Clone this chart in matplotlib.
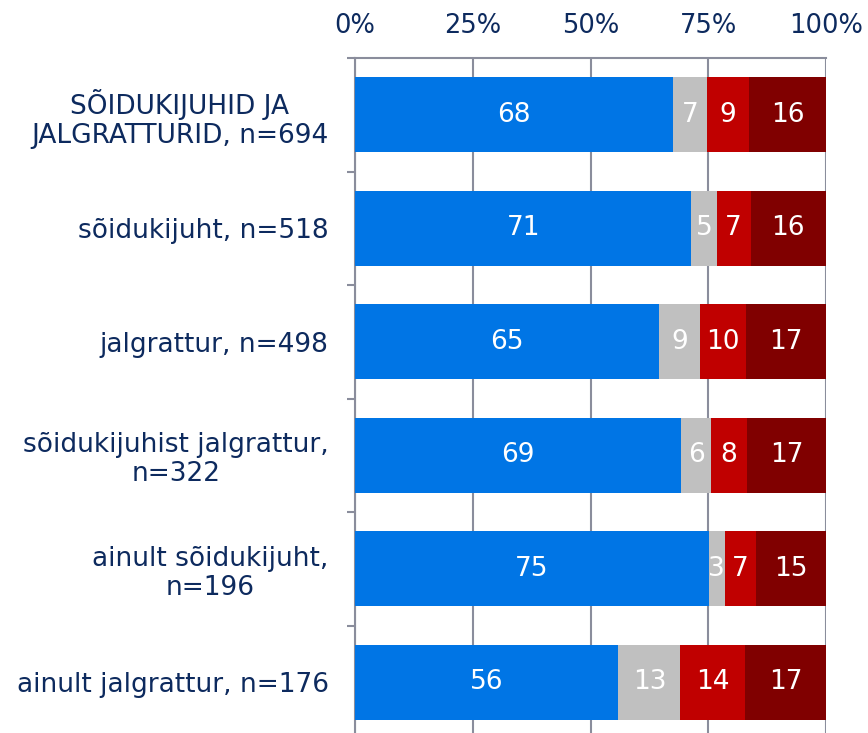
import numpy as np
import matplotlib.pyplot as plt

categories = ['SÕIDUKIJUHID JA\nJALGRATTURID, n=694',
              'sõidukijuht, n=518',
              'jalgrattur, n=498',
              'sõidukijuhist jalgrattur,\nn=322',
              'ainult sõidukijuht,\nn=196',
              'ainult jalgrattur, n=176']
blue = [67.6, 71.4, 64.6, 69.2, 75.1, 55.9]
grey = [7.2, 5.4, 8.7, 6.4, 3.4, 13.2]
red = [8.8, 7.2, 9.7, 7.6, 6.6, 13.7]
darkred = [16.4, 16.0, 17.0, 16.8, 14.9, 17.2]
xticks = [0, 25, 50, 75, 100]

series = [blue, grey, red, darkred]
colors = ['#0075E5', '#C0C0C0', '#C00000', '#800000']
navy = '#0D2A5E'
axis_col = '#8A8D9C'

fig = plt.figure(figsize=(8.68, 7.33), dpi=100)
ax = fig.add_axes([355/868, 1 - 739/733, 471/868, (739 - 58)/733])

y = np.arange(len(categories))
left = np.zeros(len(categories))
for vals, c in zip(series, colors):
    vals = np.array(vals)
    ax.barh(y, vals, left=left, height=0.66, color=c, linewidth=0, zorder=3)
    for yi, l, v in zip(y, left, vals):
        ax.text(l + v/2, yi, f'{v:.0f}', ha='center', va='center',
                color='white', fontsize=19, zorder=4)
    left += vals

ax.set_xlim(0, 100)
ax.set_ylim(len(categories) - 0.5, -0.5)
ax.xaxis.tick_top()
ax.set_xticks(xticks)
ax.set_xticklabels([f'{t}%' for t in xticks])
ax.tick_params(axis='x', length=0, pad=14, labelsize=18.5, labelcolor=navy)
ax.set_yticks(y)
ax.set_yticklabels(categories, multialignment='center', linespacing=1.15)
ax.set_yticks(np.arange(len(categories) + 1) - 0.5, minor=True)
ax.tick_params(axis='y', which='major', length=0, pad=19, labelsize=19, labelcolor=navy)
ax.tick_params(axis='y', which='minor', length=6, width=1.5, color=axis_col)

ax.grid(axis='x', color=axis_col, linewidth=1.5, zorder=0)
for s in ['right', 'bottom']:
    ax.spines[s].set_visible(False)
for s in ['left', 'top']:
    ax.spines[s].set_color(axis_col)
    ax.spines[s].set_linewidth(1.5)

fig.savefig('out.png', dpi=100)
